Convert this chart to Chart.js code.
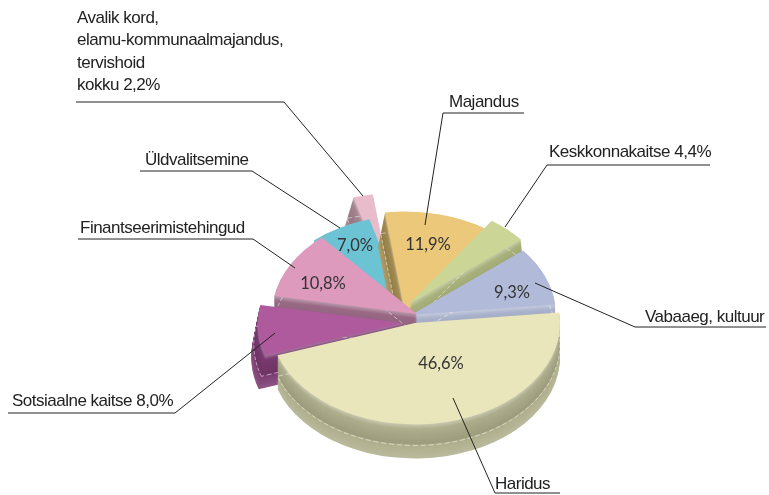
<!DOCTYPE html>
<html>
<head>
<meta charset="utf-8">
<style>
  html, body { margin:0; padding:0; background:#fff; }
  #wrap { width:769px; height:495px; }
</style>
<script src="https://cdn.jsdelivr.net/npm/chart.js@4/dist/chart.umd.min.js"></script>
</head>
<body>
<div id="wrap"><canvas id="chart" width="769" height="495"></canvas></div>
<script>
// Data
const categories = ['Haridus', 'Sotsiaalne kaitse', 'Finantseerimistehingud', 'Üldvalitsemine',
                    'Avalik kord, elamu-kommunaalmajandus, tervishoid', 'Majandus', 'Keskkonnakaitse', 'Vabaaeg, kultuur'];
const shares = [46.6, 8.0, 10.8, 7.0, 2.2, 11.9, 4.4, 9.3];

// Slice styling, same order as categories
const topColors  = ['#e9e6bb', '#ae5a9c', '#dd9abd', '#6cc3d3', '#e9bccb', '#ecc97a', '#cbd596', '#b1bbd9'];
const wallColors = ['#aeae8c', '#7a3a70', '#9a6a86', '#4f8f9c', '#a5848e', '#a38c52', '#a9b27c', '#a9b2cc'];
// shift of each slice from the pie centre (exploded slices)
const shiftX = [0, -12, 2, -6, -22, -10, -6, -4];
const shiftY = [2, 2, -7, -4, -26, -8, -17, -6];
// sideways drift of the side wall per px of depth
const wallLean = [0, -0.2, 0, 0, -0.3, -0.2, 0.1, 0];
const paintOrder = [4, 3, 5, 6, 7, 2, 1, 0];

const CX = 415, CY = 321, SQUASH = 0.7, DEPTH = 34;

// Text + leader lines
const calloutLines = [
  { text:['Avalik kord,', 'elamu-kommunaalmajandus,', 'tervishoid', 'kokku 2,2%'], tx:77, ty:18, path:[[76,102],[284,102],[363,196]] },
  { text:['Üldvalitsemine'], tx:145, ty:160, path:[[140,171],[252,171],[340,228]] },
  { text:['Finantseerimistehingud'], tx:80, ty:228, path:[[78,239],[253,239],[295,268]] },
  { text:['Sotsiaalne kaitse 8,0%'], tx:12, ty:401, path:[[8,413],[175,413],[275,333]] },
  { text:['Haridus'], tx:495, ty:484, path:[[560,493],[495,493],[453,398]] },
  { text:['Vabaaeg, kultuur'], tx:645, ty:317, path:[[766,327],[635,327],[535,283]] },
  { text:['Keskkonnakaitse 4,4%'], tx:549, ty:152, path:[[710,165],[547,165],[505,227]] },
  { text:['Majandus'], tx:449, ty:102, path:[[524,113],[443,113],[425,225]] },
];
// share labels: [slice index, x, y]
const shareLabels = [[0,441,364],[7,512,293],[5,428,245],[3,355,246],[2,323,284]];

function mix(hex, other, t) {
  const a = parseInt(hex.slice(1), 16), b = parseInt(other.slice(1), 16);
  const ch = s => Math.round(((a >> s) & 255) * (1 - t) + ((b >> s) & 255) * t);
  return `rgb(${ch(16)},${ch(8)},${ch(0)})`;
}

function wallShade(i, d) {
  const t = d / DEPTH;
  if (t < 0.15) return mix(wallColors[i], '#ffffff', 0.35 * (1 - t / 0.15));
  if (t < 0.6)  return mix(wallColors[i], '#000000', 0.10 * (t - 0.15) / 0.45);
  return mix(wallColors[i], '#ffffff', 0.14 * (t - 0.6) / 0.4);
}

function drawArcWith(ctx, arc, i, d, over) {
  const saved = arc.options;
  arc.options = Object.assign({}, saved, over);
  ctx.save();
  ctx.translate(CX + shiftX[i] + d * wallLean[i], CY + shiftY[i] + d);
  ctx.scale(1, SQUASH);
  ctx.translate(-arc.x, -arc.y);
  arc.draw(ctx);
  ctx.restore();
  arc.options = saved;
}

const pie3d = {
  id: 'pie3d',
  beforeDatasetsDraw(chart) {
    const ctx = chart.ctx;
    const arcs = chart.getDatasetMeta(0).data;
    for (const i of paintOrder) {
      for (let d = DEPTH; d >= 1; d--) {
        drawArcWith(ctx, arcs[i], i, d, { backgroundColor: wallShade(i, d), borderWidth: 0 });
      }
      drawArcWith(ctx, arcs[i], i, 21, {
        backgroundColor: 'rgba(0,0,0,0)', borderColor: 'rgba(255,255,255,0.6)', borderWidth: 1, borderDash: [5, 3]
      });
      drawArcWith(ctx, arcs[i], i, 0, { backgroundColor: topColors[i], borderWidth: 0 });
    }
    return false;
  },
  afterDraw(chart) {
    const ctx = chart.ctx;
    ctx.save();
    ctx.strokeStyle = '#222';
    ctx.lineWidth = 1;
    for (const c of calloutLines) {
      ctx.beginPath();
      c.path.forEach((p, k) => k ? ctx.lineTo(p[0], p[1]) : ctx.moveTo(p[0], p[1]));
      ctx.stroke();
    }
    ctx.fillStyle = '#222';
    ctx.textBaseline = 'middle';
    ctx.textAlign = 'left';
    ctx.font = '17px "Liberation Sans", sans-serif';
    ctx.letterSpacing = '-0.5px';
    for (const c of calloutLines) {
      c.text.forEach((line, k) => ctx.fillText(line, c.tx, c.ty + k * 22.5));
    }
    ctx.letterSpacing = '0px';
    ctx.textAlign = 'center';
    ctx.font = '16.5px Lato, sans-serif';
    ctx.fillStyle = '#333';
    for (const [i, x, y] of shareLabels) {
      ctx.fillText(shares[i].toFixed(1).replace('.', ',') + '%', x, y);
    }
    ctx.restore();
  }
};

new Chart(document.getElementById('chart').getContext('2d'), {
  type: 'pie',
  data: {
    labels: categories,
    datasets: [{ data: shares, backgroundColor: topColors, borderWidth: 0 }]
  },
  options: {
    responsive: false,
    animation: false,
    radius: 145,
    rotation: 84,
    plugins: { legend: { display: false }, tooltip: { enabled: false } }
  },
  plugins: [pie3d]
});
</script>
</body>
</html>
